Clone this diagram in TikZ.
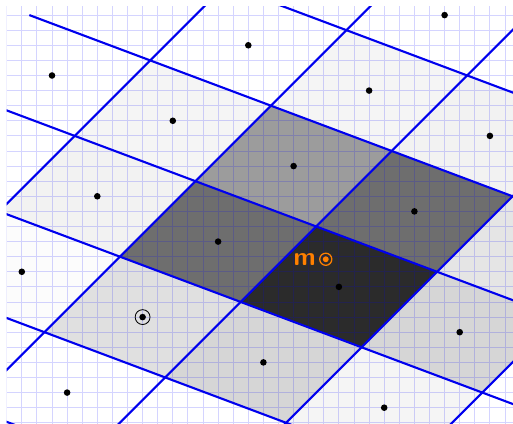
\documentclass[tikz,border=0pt]{standalone}
\usetikzlibrary{positioning, calc}
\definecolor{latticeblue}{HTML}{0000EE}
\definecolor{gridblue}{HTML}{0000FF}
\definecolor{markorange}{HTML}{FF8000}

\begin{document}
\begin{tikzpicture}[x=0.5cm, y=0.5cm]

\tikzset{
  latline/.style={draw=latticeblue, line width=2pt},
  finegrid/.style={draw=gridblue, opacity=0.17, line width=0.8pt, step=0.5cm},
  centredot/.style={circle, fill=black, inner sep=0pt, minimum size=6.2pt},
  markring/.style={circle, draw=markorange, line width=1.2pt, inner sep=0pt,
    minimum size=11.4pt},
  marklabel/.style={text=markorange, inner sep=1pt,
    font=\fontsize{24}{24}\selectfont\sffamily\bfseries},
}

\useasboundingbox (-0.444,-0.08) rectangle (33.53,28.0);
\fill[white] (-0.444,-0.08) rectangle (33.53,28.0);

\begin{scope}
\clip (0,-0.08) rectangle (33.53,27.56);
% ---- shaded cells: i/j lattice index, grey level ----
\foreach \i/\j/\tone in {1/-1/83, 0/-1/57, 1/0/57, 0/0/39, 1/-2/16, 2/-1/16,
    0/-2/12, 2/0/10, -1/-1/5, 1/1/5, -1/0/4, 0/1/4, 2/-2/4, -1/-2/1}{
  \pgfmathsetmacro\cx{12.5+8*\i+5*\j}
  \pgfmathsetmacro\cy{16-3*\i+5*\j}
  \fill[black!\tone] (\cx,\cy) -- ++(8,-3) -- ++(5,5) -- ++(-8,3) -- cycle;
}
% ---- fine grid ----
\draw[finegrid] (0,-1) grid (34,28);
% ---- lattice lines ----
\foreach \j in {-3,...,2}{
  \draw[latline] ({-3.5+5*\j},{22+5*\j}) -- ++(56,-21);
}
\foreach \i in {-1,...,3}{
  \draw[latline] ({-7.5+8*\i},{-4-3*\i}) -- ++(40,40);
}
\end{scope}

% ---- cell centres ----
\foreach \x/\y [count=\n] in {29/27, 16/25, 3/23, 24/22, 11/20, 32/19, 19/17,
    6/15, 27/14, 14/12, 1/10, 22/9, 9/7, 30/6, 17/4, 4/2, 25/1}{
  \node[centredot] (c\n) at (\x,\y) {};
}
\draw[line width=0.8pt] (c13) circle (7pt);

% ---- received point m ----
\node[markring] (mring) at (21.13,10.83) {};
\fill[markorange] (mring.center) circle (2.8pt);
\node[marklabel, left=2pt of mring] (mlabel) {m};

\end{tikzpicture}
\end{document}
